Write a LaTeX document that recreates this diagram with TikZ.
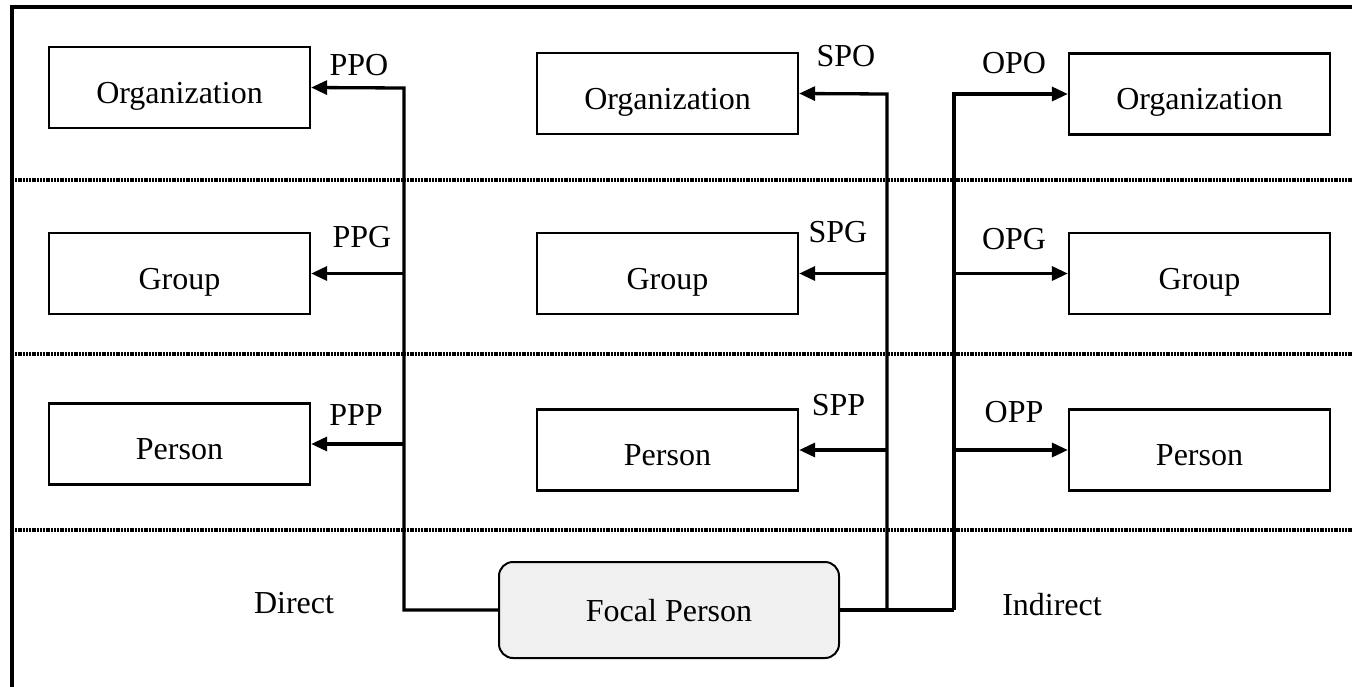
\documentclass[tikz,border=0pt]{standalone}
\usepackage{fontspec}
\setmainfont{Liberation Serif}
\usetikzlibrary{arrows.meta}
\definecolor{focalfill}{HTML}{F0F0F0}
\begin{document}
\begin{tikzpicture}[x=1pt,y=-1pt,
  every node/.style={font=\fontsize{32}{38}\selectfont},
  levelbox/.style={draw,line width=2.3pt,inner sep=0pt,minimum width=261pt,minimum height=81pt,
    text height=31pt,text depth=0pt},
  focalbox/.style={draw,line width=2pt,fill=focalfill,rounded corners=14pt,inner sep=0pt,
    minimum width=340pt,minimum height=96pt,text height=23pt,text depth=0pt},
  conn/.style={line width=3.3pt},
  arrowconn/.style={conn,-{Triangle[length=16pt,width=14pt]}},
  separator/.style={line width=3.2pt,dash pattern=on 2pt off 0.8pt},
  tag/.style={inner sep=0pt}]
\useasboundingbox (0,0) rectangle (1352,686);

% outer frame
\draw[line width=3.2pt] (12,700) -- (12,7) -- (1365,7);

% level separators
\foreach \yy in {180,354,530}
  \draw[separator] (12,\yy) -- (1352,\yy);

% direct column
\node[levelbox] (ppo) at (179.5,87.5) {Organization};
\node[levelbox] (ppg) at (179.5,273.5) {Group};
\node[levelbox] (ppp) at (179.5,444) {Person};

% indirect, via a second person
\node[levelbox] (spo) at (667.5,93.5) {Organization};
\node[levelbox] (spg) at (667.5,273.5) {Group};
\node[levelbox] (spp) at (667.5,450) {Person};

% indirect, via an organization
\node[levelbox] (opo) at (1199.5,94) {Organization};
\node[levelbox] (opg) at (1199.5,273.5) {Group};
\node[levelbox] (opp) at (1199.5,450) {Person};

% focal person
\node[focalbox] (focal) at (669,610) {Focal Person};

% trunk coordinates
\coordinate (tl) at (404,88);
\coordinate (tm) at (887,94);
\coordinate (tr) at (954,94);
\coordinate (br) at (954,610);

% connectors
\draw[arrowconn] (focal.west) -| (tl) -- (ppo.east);
\draw[arrowconn] (tl |- ppg.east) -- (ppg.east);
\draw[arrowconn] (tl |- ppp.east) -- (ppp.east);

\draw[arrowconn] (focal.east) -| (tm) -- (spo.east);
\draw[arrowconn] (tm |- spg.east) -- (spg.east);
\draw[arrowconn] (tm |- spp.east) -- (spp.east);

\draw[conn] (focal.east) -- (br);
\draw[arrowconn] (br) -- (tr) -- (opo.west);
\draw[arrowconn] (tr |- opg.west) -- (opg.west);
\draw[arrowconn] (tr |- opp.west) -- (opp.west);

% connector labels
\node[tag] (lppo) at (359,65.5) {PPO};
\node[tag] (lppg) at (362,237.5) {PPG};
\node[tag] (lppp) at (356,415.5) {PPP};
\node[tag] (lspo) at (846,56.5) {SPO};
\node[tag] (lspg) at (838,232.5) {SPG};
\node[tag] (lspp) at (838.5,405.5) {SPP};
\node[tag] (lopo) at (1014,63) {OPO};
\node[tag] (lopg) at (1014,239) {OPG};
\node[tag] (lopp) at (1014,412) {OPP};

% branch captions
\node[tag] (direct) at (294,603) {Direct};
\node[tag] (indirect) at (1052,604.5) {Indirect};
\end{tikzpicture}
\end{document}
